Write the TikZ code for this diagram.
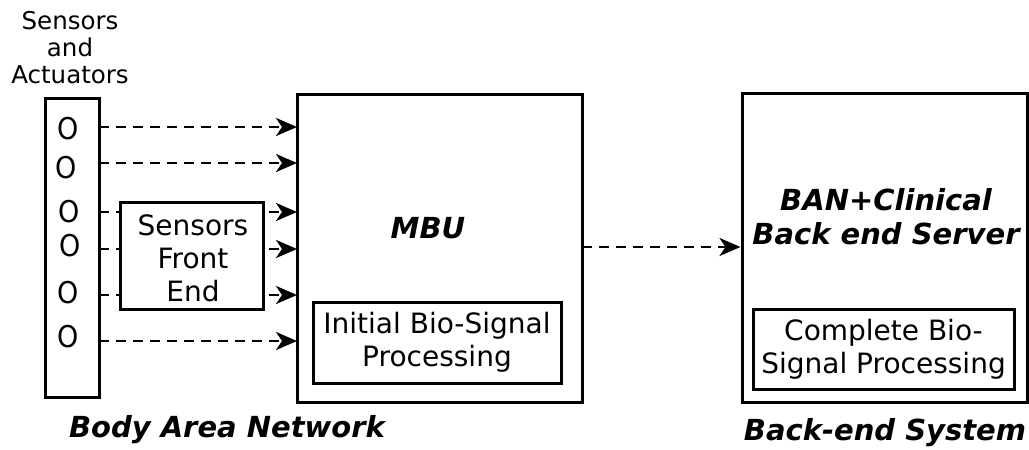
\documentclass[tikz,border=0pt]{standalone}
\usepackage{fontspec}
\setmainfont{DejaVu Sans}
\usetikzlibrary{arrows.meta}
\begin{document}
\begin{tikzpicture}[x=1pt,y=-1pt,
  box/.style={draw,line width=3pt,fill=white,inner sep=0pt},
  lbl/.style={font=\fontsize{28}{33}\selectfont,align=center,inner sep=0pt},
  bold/.style={font=\fontsize{29}{34}\selectfont\bfseries\itshape,align=center,inner sep=0pt},
  dsh/.style={line width=2.6pt,dash pattern=on 10pt off 7pt,-{Stealth[length=21pt,width=18pt,inset=6pt]}},
  oo/.style={font=\fontsize{30}{30}\selectfont,inner sep=0pt,xscale=0.9}]
\useasboundingbox (0,0) rectangle (1029,450);
% sensor column
\draw[box] (45,98) rectangle (99,397);
\coordinate (colE) at (99,0);
\node[lbl,font=\fontsize{24.5}{27}\selectfont] (sa) at (70,48) {Sensors\\and\\Actuators};
\node[oo] (o1) at (68,129) {O};
\node[oo] (o2) at (66,168) {O};
\node[oo] (o3) at (69,212) {O};
\node[oo] (o4) at (70,246) {O};
\node[oo] (o5) at (68,293) {O};
\node[oo] (o6) at (68,337) {O};
% MBU
\draw[box] (297,94) rectangle (582,402);
\coordinate (mbuW) at (297,0);
\coordinate (mbuE) at (582,247);
\node[bold] (mbu) at (428,228) {MBU};
\node[box,minimum width=248pt,minimum height=81pt] (ibs) at (437,342.5) {};
\node[lbl] at (ibs) {Initial Bio-Signal\\Processing};
% arrows to MBU
\foreach \y in {127,163,212,249,295,341}{
  \draw[dsh] (colE |- 0,\y) -- (mbuW |- 0,\y);
}
% sensors front end
\node[box,minimum width=143pt,minimum height=107pt] (sfe) at (191.5,255.5) {};
\node[lbl] at (193,258) {Sensors\\Front\\End};
% backend
\node[box,minimum width=285pt,minimum height=309pt] (be) at (884.5,247.5) {};
\node[bold] (ban) at (886,217) {BAN+Clinical\\Back end Server};
\node[box,minimum width=261pt,minimum height=80pt] (cbs) at (883.5,349) {};
\node[lbl] at (cbs) {Complete Bio-\\Signal Processing};
\draw[dsh] (mbuE) -- (be.west |- mbuE);
% labels
\node[bold] (ban2) at (227,430) {Body Area Network};
\node[bold] (bes) at (885,433) {Back-end System};
\end{tikzpicture}
\end{document}
